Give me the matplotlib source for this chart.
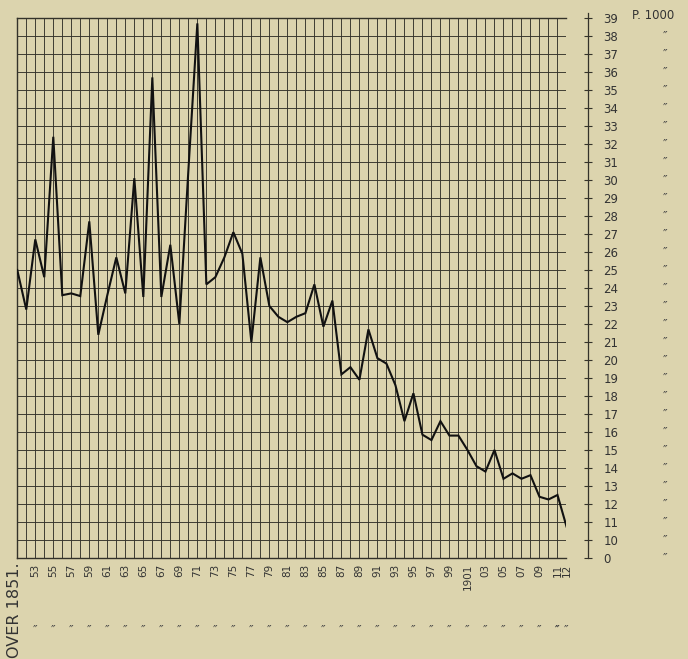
import numpy as np
import matplotlib.pyplot as plt
import matplotlib.transforms as mtransforms

# rate per 1000, 1851-1912
years = list(range(1851, 1913))
rate = [25.0, 22.8, 26.7, 24.6, 32.4, 23.6, 23.7, 23.55, 27.7, 21.4,
        23.6, 25.7, 23.7, 30.1, 23.5, 35.7, 23.5, 26.4, 22.0, 30.5,
        38.7, 24.2, 24.6, 25.7, 27.1, 25.9, 21.0, 25.7, 23.0, 22.4,
        22.1, 22.4, 22.6, 24.2, 21.85, 23.3, 19.2, 19.6, 18.9, 21.7,
        20.1, 19.8, 18.6, 16.6, 18.15, 15.85, 15.55, 16.6, 15.8, 15.8,
        15.0, 14.1, 13.8, 15.0, 13.4, 13.7, 13.4, 13.6, 12.4, 12.25,
        12.5, 10.75]

label_years = [1851] + list(range(1853, 1912, 2)) + [1912]
label_text = ["OVER 1851."] + [str(y)[-2:] for y in range(1853, 1912, 2)] + ["12"]
label_text[label_text.index("01")] = "1901"

ytick_vals = list(range(9, 40))
ytick_text = ["0"] + [str(v) for v in range(10, 40)]

bg = "#DCD4AE"
ink = "#34322a"
txt_col = "#333333"

fig = plt.figure(figsize=(6.88, 6.59), dpi=100, facecolor=bg)
ax = fig.add_axes([0.0251, 0.1533, 0.7983, 0.8194])
ax.set_facecolor(bg)

ax.set_xlim(1851, 1912)
ax.set_ylim(9, 39)

# graph paper grid, one line per year and per unit
ax.set_xticks(years, minor=True)
ax.set_xticks(label_years)
ax.set_xticklabels([])
ax.set_yticks(ytick_vals)
ax.set_yticklabels(ytick_text)
ax.grid(True, which="both", color=ink, lw=0.65)
ax.set_axisbelow(True)

ax.plot(years, rate, color="#111111", lw=1.5, solid_joinstyle="miter", zorder=3)

for s in ["left", "top", "bottom"]:
    ax.spines[s].set_color(ink)
    ax.spines[s].set_linewidth(1.0)

# scale drawn to the right of the paper
ax.yaxis.tick_right()
ax.spines["right"].set_position(("outward", 15.5))
ax.spines["right"].set_color(ink)
ax.spines["right"].set_linewidth(0.9)
ax.spines["right"].set_bounds(9, 39.3)
ax.tick_params(axis="y", which="major", direction="inout", length=6, width=0.8,
               color=ink, pad=8, labelsize=8.5, labelcolor=txt_col)
ax.tick_params(axis="x", which="both", length=0)

ditto_row = mtransforms.blended_transform_factory(ax.transData, fig.transFigure)

# year labels, rotated, plus ditto row
for yr, txt in zip(label_years, label_text):
    if yr == 1851:
        ax.text(yr - 0.3, -0.008, txt, transform=ax.get_xaxis_transform(),
                rotation=90, ha="center", va="top", fontsize=11.5,
                color=txt_col)
    else:
        ax.text(yr, -0.01, txt, transform=ax.get_xaxis_transform(),
                rotation=90, ha="center", va="top", fontsize=7.5,
                color=txt_col)
        ax.text(yr, 0.044, "\u2033", transform=ditto_row, ha="center",
                va="center", fontsize=9, color="#444444")
ax.text(1911, 0.044, "\u2033", transform=ditto_row, ha="center", va="center",
        fontsize=9, color="#444444")

# unit and ditto column beside the scale
side = mtransforms.blended_transform_factory(fig.transFigure, ax.transData)
ax.text(632 / 688, 39.15, "P. 1000", transform=side, ha="left", va="center",
        fontsize=8.5, color=txt_col)
for v in ytick_vals[:-1]:
    ax.text(665 / 688, v, "\u2033", transform=side, ha="center", va="center",
            fontsize=9, color="#444444")

fig.savefig("out.png", dpi=100, facecolor=bg)
